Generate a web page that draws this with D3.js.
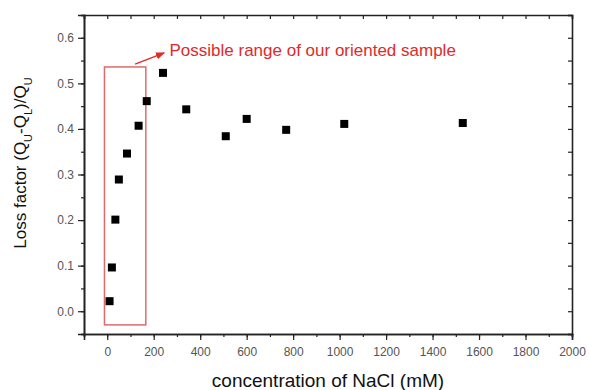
<!DOCTYPE html>
<html><head><meta charset="utf-8">
<script src="https://cdn.jsdelivr.net/npm/d3@7"></script>
<style>body{margin:0;background:#fff}svg{display:block}</style>
</head><body>
<svg id="c" width="589" height="390"></svg>
<script>
const concentration = [10, 20, 35, 50, 85, 135, 170, 240, 340, 510, 600, 770, 1020, 1530];
const lossFactor = [0.022, 0.096, 0.201, 0.289, 0.346, 0.407, 0.461, 0.523, 0.443, 0.384, 0.422, 0.398, 0.411, 0.413];
const xTicks = [0, 200, 400, 600, 800, 1000, 1200, 1400, 1600, 1800, 2000];
const yTicks = [0.0, 0.1, 0.2, 0.3, 0.4, 0.5, 0.6];
const rangeBox = {x0: -12, x1: 166, y0: -0.030, y1: 0.536};
const annotation = "Possible range of our oriented sample";

const svg = d3.select("#c");
const L = 84, R = 572, T = 15, B = 334;
const x = d3.scaleLinear().domain([-100, 2000]).range([L, R]);
const y = d3.scaleLinear().domain([-0.05, 0.65]).range([B, T]);
const axisCol = "#222", labCol = "#555";
const font = "Arial, 'Liberation Sans', sans-serif";

const xMinor = d3.range(-100, 2001, 100);
const yMinor = d3.range(-0.05, 0.651, 0.05).map(v => +v.toFixed(2));

// bottom axis
const gx = svg.append("g").attr("transform", `translate(0,${B})`);
gx.call(d3.axisBottom(x).tickValues(xMinor).tickSize(3).tickFormat(""));
gx.append("g").call(d3.axisBottom(x).tickValues(xTicks).tickSize(6).tickPadding(7).tickFormat(d3.format("d")));
// left axis
const gy = svg.append("g").attr("transform", `translate(${L},0)`);
gy.call(d3.axisLeft(y).tickValues(yMinor).tickSize(3).tickFormat(""));
gy.append("g").call(d3.axisLeft(y).tickValues(yTicks).tickSize(6).tickPadding(4).tickFormat(d3.format(".1f")));
// top axis (inward)
const gt = svg.append("g").attr("transform", `translate(0,${T})`);
gt.call(d3.axisBottom(x).tickValues(xMinor).tickSize(4).tickFormat(""));
// right axis (inward)
const gr = svg.append("g").attr("transform", `translate(${R},0)`);
gr.call(d3.axisLeft(y).tickValues(yMinor).tickSize(4).tickFormat(""));

svg.selectAll(".domain").attr("stroke", axisCol).attr("stroke-width", 1.6);
svg.selectAll(".tick line").attr("stroke", axisCol).attr("stroke-width", 1.2);
svg.selectAll(".tick text").attr("fill", labCol).style("font-family", font).style("font-size", "12px");

// range box
svg.append("rect")
  .attr("x", x(rangeBox.x0)).attr("y", y(rangeBox.y1))
  .attr("width", x(rangeBox.x1) - x(rangeBox.x0))
  .attr("height", y(rangeBox.y0) - y(rangeBox.y1))
  .attr("fill", "none").attr("stroke", "#e06a6a").attr("stroke-width", 1.5);

// points
svg.append("g").selectAll("rect").data(concentration).join("rect")
  .attr("x", (d) => x(d) - 4).attr("y", (d, i) => y(lossFactor[i]) - 4)
  .attr("width", 8).attr("height", 8).attr("fill", "#000");

// arrow
svg.append("defs").append("marker").attr("id", "ah").attr("viewBox", "0 0 10 10")
  .attr("refX", 9).attr("refY", 5).attr("markerWidth", 7).attr("markerHeight", 7)
  .attr("orient", "auto").append("path").attr("d", "M0,1L10,5L0,9Z").attr("fill", "#e02a2a");
svg.append("line").attr("x1", x(120)).attr("y1", y(0.542)).attr("x2", x(245)).attr("y2", y(0.567))
  .attr("stroke", "#e02a2a").attr("stroke-width", 1.3).attr("marker-end", "url(#ah)");
svg.append("text").attr("x", x(268)).attr("y", y(0.561))
  .attr("fill", "#e02a2a").style("font-family", font).style("font-size", "17px")
  .text(annotation);

// axis titles
svg.append("text").attr("x", 328).attr("y", 387).attr("text-anchor", "middle")
  .attr("fill", "#111").style("font-family", font).style("font-size", "19px")
  .text("concentration of NaCl (mM)");
const yt = svg.append("text").attr("transform", `translate(26,163) rotate(-90)`)
  .attr("text-anchor", "middle").attr("fill", "#111").style("font-family", font).style("font-size", "17px");
yt.append("tspan").text("Loss factor (Q");
yt.append("tspan").attr("baseline-shift", "sub").style("font-size", "11px").text("U");
yt.append("tspan").text("-Q");
yt.append("tspan").attr("baseline-shift", "sub").style("font-size", "11px").text("L");
yt.append("tspan").text(")/Q");
yt.append("tspan").attr("baseline-shift", "sub").style("font-size", "11px").text("U");
</script>
</body></html>
